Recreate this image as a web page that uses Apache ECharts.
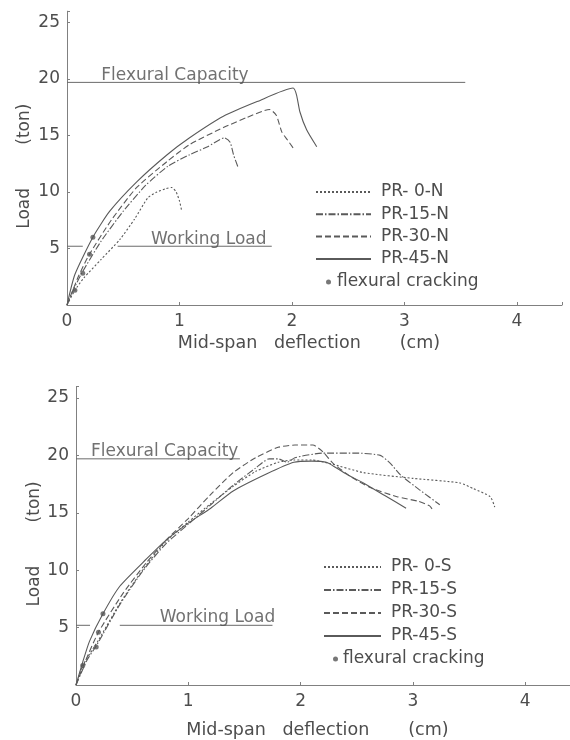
<!DOCTYPE html>
<html><head><meta charset="utf-8">
<script src="https://cdn.jsdelivr.net/npm/echarts@6/dist/echarts.min.js"></script>
<style>html,body{margin:0;padding:0;background:#fff}#c{width:570px;height:740px}</style>
</head><body><div id="c"></div>
<script>
// ---- tick labels ----
const xTicks = [0, 1, 2, 3, 4];
const yTicks = [5, 10, 15, 20, 25];

// ---- names ----
const namesN = ['PR- 0-N', 'PR-15-N', 'PR-30-N', 'PR-45-N'];
const namesS = ['PR- 0-S', 'PR-15-S', 'PR-30-S', 'PR-45-S'];
const crackName = 'flexural cracking';

// ---- top chart (N) : [deflection cm, load ton] ----
const pr0N = [[0,0],[0.07,1.3],[0.15,2.4],[0.3,4.0],[0.47,5.8],[0.6,7.6],[0.72,9.5],[0.8,10.0],[0.88,10.3],[0.93,10.4],[0.97,10.0],[1.0,9.2],[1.02,8.3]];
const pr15N = [[0,0],[0.05,1.2],[0.13,2.8],[0.3,5.6],[0.5,8.3],[0.7,10.6],[0.9,12.3],[1.09,13.3],[1.25,14.0],[1.4,14.8],[1.45,14.4],[1.48,13.3],[1.52,12.2]];
const pr30N = [[0,0],[0.1,2.5],[0.2,4.5],[0.4,7.6],[0.62,10.4],[0.89,12.7],[1.09,14.2],[1.39,15.7],[1.6,16.6],[1.8,17.3],[1.86,16.8],[1.91,15.3],[1.96,14.6],[2.01,13.9]];
const pr45N = [[0,0],[0.07,2.7],[0.23,6.0],[0.38,8.3],[0.62,10.9],[0.89,13.3],[1.09,14.8],[1.39,16.7],[1.69,18.0],[2.01,19.2],[2.04,18.6],[2.07,17.1],[2.13,15.5],[2.22,14.0]];
const crackN = [[0.07,1.3],[0.14,2.8],[0.2,4.5],[0.23,6.0]];
const flexCapN = [[0,19.7],[3.54,19.7]];
const workLoadN1 = [[0,5.2],[0.14,5.2]];
const workLoadN2 = [[0.45,5.2],[1.82,5.2]];
const textN = [[0.96,19.7,'Flexural Capacity'],[1.26,5.2,'Working Load']];

// ---- bottom chart (S) ----
const pr0S = [[0,0],[0.06,1.7],[0.2,3.9],[0.39,7.1],[0.6,10.1],[0.8,12.5],[1.0,14.2],[1.2,15.8],[1.4,17.3],[1.6,18.6],[1.8,19.4],[1.94,19.6],[2.1,19.6],[2.26,19.3],[2.56,18.5],[3.0,18.0],[3.42,17.6],[3.54,17.1],[3.69,16.4],[3.73,15.5]];
const pr15S = [[0,0],[0.1,2.2],[0.18,3.4],[0.39,7.0],[0.6,10.0],[0.8,12.3],[1.0,14.0],[1.2,15.7],[1.4,17.4],[1.6,18.9],[1.72,19.7],[1.8,19.7],[1.88,19.4],[1.95,19.8],[2.2,20.2],[2.5,20.2],[2.71,20.0],[2.8,19.3],[2.89,18.3],[3.06,17.0],[3.24,15.7]];
const pr30S = [[0,0],[0.08,2.0],[0.2,4.6],[0.42,8.0],[0.63,10.7],[0.8,12.6],[1.0,14.5],[1.19,16.5],[1.4,18.5],[1.6,19.8],[1.8,20.7],[1.95,20.9],[2.11,20.9],[2.2,20.3],[2.29,19.3],[2.44,18.2],[2.62,17.2],[2.86,16.4],[3.05,16.0],[3.15,15.6],[3.18,15.2]];
const pr45S = [[0,0],[0.06,2.0],[0.12,3.8],[0.24,6.2],[0.39,8.6],[0.63,11.0],[0.8,12.6],[1.0,14.1],[1.2,15.4],[1.4,16.9],[1.7,18.4],[1.94,19.4],[2.1,19.5],[2.23,19.4],[2.32,18.9],[2.44,18.2],[2.56,17.6],[2.75,16.5],[2.94,15.4]];
const crackS = [[0.06,1.7],[0.18,3.3],[0.2,4.6],[0.24,6.2]];
const flexCapS = [[0,19.7],[1.46,19.7]];
const workLoadS1 = [[0,5.2],[0.125,5.2]];
const workLoadS2 = [[0.39,5.2],[1.75,5.2]];
const textS = [[0.79,19.7,'Flexural Capacity'],[1.26,5.2,'Working Load']];

// ---- styling ----
const FONT = 'DejaVu Sans';
const TXT = '#4d4d4d';
const LINE = '#5a5a5a';
const AX = '#808080';
const dashes = [[2,2],[7,2,1.5,2],[6,3],'solid'];

function curve(name, data, i, g) {
  return { type:'line', name, data, xAxisIndex:g, yAxisIndex:g, symbol:'none', smooth:0.2,
    lineStyle:{ color:LINE, width:1.1, type:dashes[i] }, itemStyle:{ color:LINE }, z:3 };
}
function refLine(data, g) {
  return { type:'line', data, xAxisIndex:g, yAxisIndex:g, symbol:'none', silent:true,
    lineStyle:{ color:'#6a6a6a', width:1 }, z:2 };
}
function texts(data, g, dist) {
  return { type:'scatter', data, xAxisIndex:g, yAxisIndex:g, symbolSize:0, silent:true,
    label:{ show:true, position:'top', distance:dist, formatter:p=>p.data[2], color:TXT, fontFamily:FONT, fontSize:17 } };
}
function cracks(data, g) {
  return { type:'scatter', name:crackName + (g? ' ':''), data, xAxisIndex:g, yAxisIndex:g, symbol:'circle', symbolSize:5,
    itemStyle:{ color:'#555' }, z:4 };
}
function xAxis(g, gap) {
  return { type:'value', gridIndex:g, min:0, max:4.4, interval:1,
    name:'Mid-span   deflection       (cm)  ', nameLocation:'middle', nameGap:gap,
    nameTextStyle:{ color:TXT, fontFamily:FONT, fontSize:17.5 },
    axisLine:{ lineStyle:{ color:AX, width:1 } }, axisTick:{ inside:true, length:3, lineStyle:{ color:AX } },
    splitLine:{ show:false },
    axisLabel:{ color:TXT, fontFamily:FONT, fontSize:17, margin:8, formatter:v=>xTicks.includes(v)?String(v):'' } };
}
function yAxis(g, gap) {
  return { type:'value', gridIndex:g, min:0, max:26, interval:5,
    name:'Load        (ton)   ', nameLocation:'middle', nameGap:gap, nameMoveOverlap:false,
    nameTextStyle:{ color:TXT, fontFamily:FONT, fontSize:17 },
    axisLine:{ show:true, lineStyle:{ color:AX, width:1 } }, axisTick:{ show:true, inside:true, length:3, lineStyle:{ color:AX } },
    splitLine:{ show:false },
    axisLabel:{ color:TXT, fontFamily:FONT, fontSize:17, margin:7, formatter:v=>yTicks.includes(v)?String(v):'' } };
}
const legText = { color:TXT, fontFamily:FONT, fontSize:17, lineHeight:17, padding:[0,0,0,5] };
const legLine = { orient:'vertical', itemHeight:14, textStyle:legText, selectedMode:false, itemStyle:{ opacity:0 } };
const legDot = { orient:'vertical', itemWidth:5, itemHeight:5, selectedMode:false };

const option = {
  animation:false,
  backgroundColor:'#fff',
  grid:[
    { left:67, top:11.2, width:495, height:293.8, outerBoundsMode:'none' },
    { left:76, top:386.5, width:494, height:298.5, outerBoundsMode:'none' }
  ],
  xAxis:[ xAxis(0, 29), xAxis(1, 36) ],
  yAxis:[ yAxis(0, 34), yAxis(1, 33) ],
  legend:[
    { ...legLine, data:namesN, left:310, top:178.5, itemWidth:55, itemGap:5.3 },
    { ...legDot, data:[crackName], left:321, top:268.5, textStyle:{...legText, padding:[0,0,0,1]} },
    { ...legLine, data:namesS, left:318, top:553.5, itemWidth:57, itemGap:6 },
    { ...legDot, data:[crackName+' '], left:328, top:645.5, textStyle:{...legText, padding:[0,0,0,0]}, formatter:n=>n.trim() }
  ],
  series:[
    curve(namesN[0], pr0N, 0, 0), curve(namesN[1], pr15N, 1, 0), curve(namesN[2], pr30N, 2, 0), curve(namesN[3], pr45N, 3, 0),
    cracks(crackN, 0),
    refLine(flexCapN, 0), refLine(workLoadN1, 0), refLine(workLoadN2, 0), texts(textN, 0, -2),
    curve(namesS[0], pr0S, 0, 1), curve(namesS[1], pr15S, 1, 1), curve(namesS[2], pr30S, 2, 1), curve(namesS[3], pr45S, 3, 1),
    cracks(crackS, 1),
    refLine(flexCapS, 1), refLine(workLoadS1, 1), refLine(workLoadS2, 1), texts(textS, 1, -1)
  ]
};
const chart = echarts.init(document.getElementById('c'), null, { renderer:'canvas' });
chart.setOption(option);
</script>
</body></html>
